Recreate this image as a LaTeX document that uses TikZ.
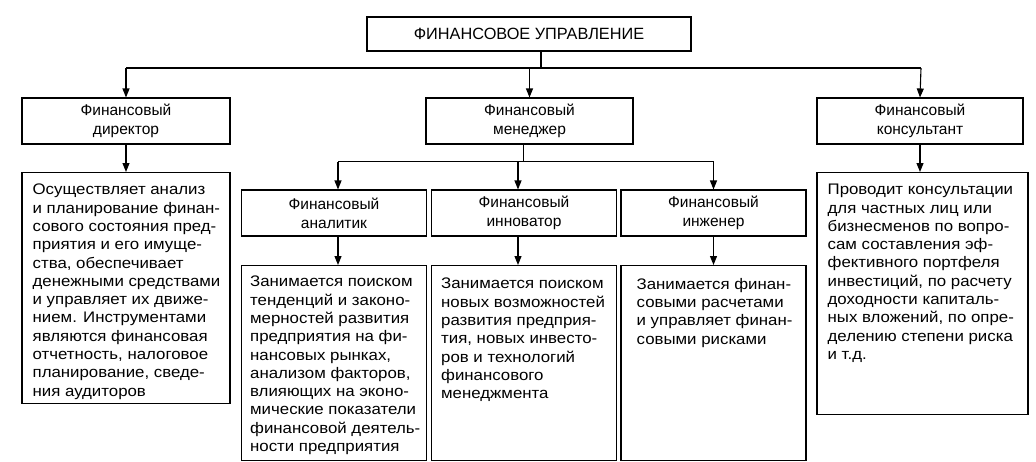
\documentclass[tikz,border=0pt]{standalone}
\usepackage{fontspec}
\setmainfont{Liberation Sans}
\newfontfamily\descfont[FakeStretch=1.1]{Liberation Sans}
\usetikzlibrary{arrows.meta}
\begin{document}
\begin{tikzpicture}[x=1pt,y=-1pt,
  ln/.style={line width=1.1pt},
  arr/.style={line width=1.1pt,-{Triangle[length=9pt,width=7pt]}},
  hbox/.style={draw,line width=1.1pt,inner sep=0pt,align=center,
    font=\fontsize{15.5}{19}\selectfont},
  dbox/.style={draw,line width=1.1pt,inner sep=0pt},
  dtext/.style={inner sep=0pt,align=left,anchor=north west,
    font=\descfont\fontsize{15.3}{18.3}\selectfont}]
\useasboundingbox (0,0) rectangle (1036,461);
% top
\node[hbox,minimum width=324pt,minimum height=34pt,font=\fontsize{16.3}{19}\selectfont] (top) at (529,34) {ФИНАНСОВОЕ УПРАВЛЕНИЕ};
% level 1
\node[hbox,minimum width=208pt,minimum height=46pt] (dir) at (126,121) {Финансовый\\директор};
\node[hbox,minimum width=207pt,minimum height=46pt] (man) at (529.5,121) {Финансовый\\менеджер};
\node[hbox,minimum width=206pt,minimum height=46pt] (con) at (920,121) {Финансовый\\консультант};
% level 2
\node[hbox,minimum width=185pt,minimum height=46pt] (ana) at (334,213) {Финансовый\\аналитик};
\node[hbox,minimum width=185pt,minimum height=46pt] (inn) at (524,213) {Финансовый\\инноватор};
\node[hbox,minimum width=185pt,minimum height=46pt] (eng) at (713.5,213) {Финансовый\\инженер};
% description boxes
\node[dbox,minimum width=208pt,minimum height=231pt,anchor=north] (ddesc) at (126,172) {};
\node[dbox,minimum width=211pt,minimum height=242pt,anchor=north] (cdesc) at (922.5,172) {};
\node[dbox,minimum width=185pt,minimum height=195pt,anchor=north] (adesc) at (334,265) {};
\node[dbox,minimum width=185pt,minimum height=195pt,anchor=north] (idesc) at (524,265) {};
\node[dbox,minimum width=185pt,minimum height=195pt,anchor=north] (edesc) at (713.5,265) {};
% description texts
\node[dtext] (ddt) at ([xshift=11pt,yshift=-12pt]ddesc.north west) {Осуществляет анализ\\и планирование финан-\\сового состояния пред-\\приятия и его имуще-\\ства, обеспечивает\\денежными средствами\\и управляет их движе-\\нием. Инструментами\\являются финансовая\\отчетность, налоговое\\планирование, сведе-\\ния аудиторов};
\node[dtext] (cdt) at ([xshift=11pt,yshift=-12pt]cdesc.north west) {Проводит консультации\\для частных лиц или\\бизнесменов по вопро-\\сам составления эф-\\фективного портфеля\\инвестиций, по расчету\\доходности капиталь-\\ных вложений, по опре-\\делению степени риска\\и т.д.};
\node[dtext] (adt) at ([xshift=9pt,yshift=-11pt]adesc.north west) {Занимается поиском\\тенденций и законо-\\мерностей развития\\предприятия на фи-\\нансовых рынках,\\анализом факторов,\\влияющих на эконо-\\мические показатели\\финансовой деятель-\\ности предприятия};
\node[dtext] (idt) at ([xshift=10pt,yshift=-13pt]idesc.north west) {Занимается поиском\\новых возможностей\\развития предприя-\\тия, новых инвесто-\\ров и технологий\\финансового\\менеджмента};
\node[dtext] (edt) at ([xshift=16pt,yshift=-13pt]edesc.north west) {Занимается финан-\\совыми расчетами\\и управляет финан-\\совыми рисками};
% connectors top
\coordinate (hL) at (126,68);
\coordinate (hR) at (921,68);
\coordinate (hT) at (541,68);
\draw[ln] (hL) -- (hR);
\draw[ln] (top.south -| hT) -- (hT);
\draw[arr] (hL) -- (dir.north);
\draw[arr] (man.north |- hL) -- (man.north);
\draw[arr] (hR |- hL) -- (con.north);
\draw[arr] (dir.south) -- (ddesc.north);
\draw[arr] (con.south) -- (cdesc.north -| con.south);
% manager connectors
\coordinate (mL) at (338,161.5);
\coordinate (mR) at (713.5,161.5);
\coordinate (mT) at (523.5,161.5);
\coordinate (mI) at (518,161.5);
\draw[ln] (mL) -- (mR);
\draw[ln] (man.south -| mT) -- (mT);
\draw[arr] (mL) -- (mL |- ana.north);
\draw[arr] (mI) -- (mI |- inn.north);
\draw[arr] (mR) -- (mR |- eng.north);
\draw[arr] (ana.south -| mL) -- (adesc.north -| mL);
\draw[arr] (inn.south -| mI) -- (idesc.north -| mI);
\draw[arr] (eng.south -| mR) -- (edesc.north -| mR);
\end{tikzpicture}
\end{document}
